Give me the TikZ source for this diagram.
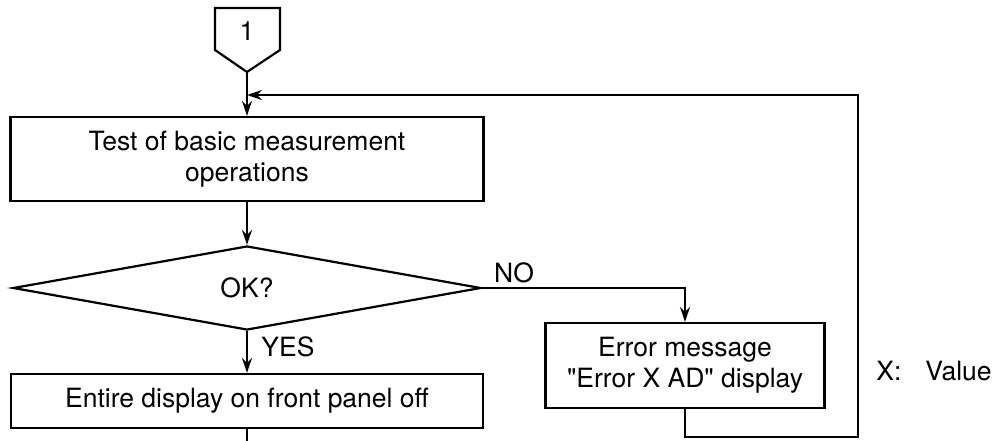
\documentclass[tikz,border=0pt]{standalone}
\usepackage{fontspec}
\setmainfont{TeX Gyre Heros}
\usetikzlibrary{arrows.meta,shapes.geometric}
\begin{document}
\begin{tikzpicture}[x=1pt,y=-1pt,
  line width=2.2pt,
  font=\fontsize{26.5}{31}\selectfont,
  box/.style={draw,rectangle,align=center,inner sep=0pt},
  arr/.style={-{Stealth[length=15pt,width=10pt]}},
  lbl/.style={inner sep=0pt}]
\useasboundingbox (0,0) rectangle (995,441);
% off-page connector
\node[lbl] (one) at (247,31) {1};
\draw[line join=miter] (215,8) -- (280,8) -- (280,50) -- (247,72) -- (215,50) -- cycle;
\coordinate (tip) at (247,72);
% boxes
\node[box,minimum width=473pt,minimum height=84pt] (test) at (247,159) {Test of basic measurement\\operations};
\node[diamond,draw,inner sep=0pt,minimum width=468pt,minimum height=84pt] (ok) at (247,288) {OK?};
\node[box,minimum width=279pt,minimum height=85pt] (err) at (685,365.5) {Error message\\\textquotedbl Error X AD\textquotedbl\ display};
\node[box,minimum width=472pt,minimum height=54pt] (ent) at (247,401) {Entire display on front panel off};
% labels
\node[lbl] (no) at (514,273) {NO};
\node[lbl] (yes) at (288,347) {YES};
\node[lbl] (xv) at (934,371) {X:\hspace{24pt}Value};
% connectors
\draw[arr] (tip) -- (test.north);
\draw[arr] (test.south) -- (ok.north);
\draw[arr] (ok.east) -| (err.north);
\draw[arr] (ok.south) -- (ent.north);
\coordinate (bot) at (247,441);
\draw (ent.south) -- (bot);
\coordinate (c1) at (685,437);
\coordinate (c2) at (858,437);
\coordinate (c3) at (858,95);
\coordinate (c4) at (247,95);
\draw[arr] (err.south) -- (c1) -- (c2) -- (c3) -- (c4);
\end{tikzpicture}
\end{document}
